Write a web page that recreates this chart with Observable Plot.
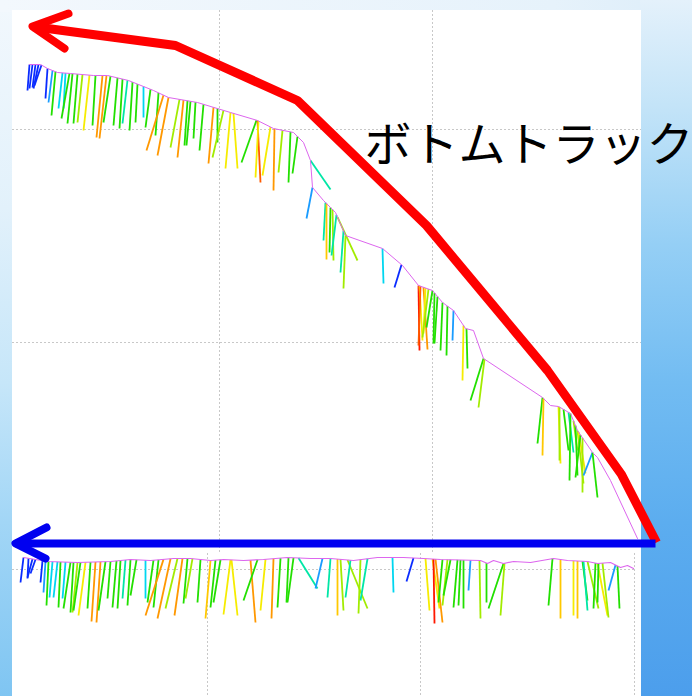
<!DOCTYPE html>
<html>
<head>
<meta charset="utf-8">
<script src="https://cdn.jsdelivr.net/npm/d3@7"></script>
<script src="https://cdn.jsdelivr.net/npm/@observablehq/plot@0.6"></script>
<style>
  html, body { margin: 0; padding: 0; }
  body {
    width: 692px; height: 696px; overflow: hidden;
    background:
      linear-gradient(to bottom, #e4f1fb 0%, #c4e4f8 15%, #95cff5 35%, #72bcf2 55%, #5cadef 75%, #4c9eec 100%) right top / 52px 100% no-repeat,
      linear-gradient(to right, #f3f8fd 0%, #e6f2fb 80%, #dcedf9 100%) left top / 100% 12px no-repeat,
      linear-gradient(to bottom, #f2f8fd 0%, #e2f1fb 30%, #c6e6f9 55%, #a2d6f6 75%, #7fc5f2 100%);
  }
  #chart { position: absolute; left: 0; top: 0; }
</style>
</head>
<body>
<div id="chart"></div>
<script>
const W = 692, H = 696;

// colour levels of the sticks (0 = blue ... 10 = red)
const levels = [0,1,2,3,4,5,6,7,8,9,10];
const palette = ["#0a2cff","#1a9cff","#00d6f0","#00e6a6","#22e000","#a2ec00","#f6ec00","#ffc800","#ff9800","#ff5a00","#ff1800"];

// white chart panel
const panel = [{x1: 12, x2: 641, y1: 10, y2: 696}];

// grid lines (upper and lower screen)
const upperGridX = [219, 432];
const upperGridY = [129, 342];
const upperGridSpan = {top: 10, bottom: 552, left: 12, right: 641};
const lowerGridX = [207, 420, 634];
const lowerGridY = [569];
const lowerGridSpan = {top: 553, bottom: 696, left: 12, right: 636};

// upper track (distance, depth)
const upperTrack = [[29,64],[40,64],[47,68],[57,72],[70,73],[93,75],[107,75],[128,80],[153,90],[168,97],[197,102],[230,112],[257,120],[273,128],[293,132],[303,142],[310,160],[312,187],[323,200],[335,212],[345,235],[382,248],[402,265],[418,285],[432,290],[442,302],[453,310],[465,328],[473,330],[483,358],[542,397],[550,405],[558,406],[570,413],[577,430],[592,452],[597,457],[610,480],[637,538]];

// upper sticks: [start distance, end distance, end depth, colour level]
const upperSticks = [
[29,27,90,0],[32,29,88,0],[35,32,87,0],[38,33,88,0],[41,34,85,0],
[47,45,98,0],[52,48,102,1],[55,51,115,4],[62,58,108,2],[65,63,108,2],[69,61,118,4],[72,67,123,4],[77,73,123,4],[82,77,122,5],[89,83,130,6],[95,92,125,4],[102,96,137,8],[106,99,138,8],[110,103,122,4],[117,113,125,4],[122,119,128,4],[127,122,123,3],[132,129,130,4],[137,135,122,4],[143,143,117,2],[150,145,127,4],[158,155,135,4],[163,146,150,8],[168,157,155,8],
[179,170,147,5],[183,177,157,8],[187,184,145,4],[190,186,145,4],[195,193,138,4],[203,199,150,4],[213,208,163,8],[217,217,142,4],[223,212,157,5],[230,225,168,6],[233,237,168,6],[256,241,162,4],[257,260,182,9],[258,255,177,6],[270,262,175,6],[274,273,190,8],[282,278,172,5],[290,288,182,4],[297,292,173,4],
[310,330,189,3],[312,306,218,1],[325,323,240,3],[326,326,259,7],[330,329,252,4],[332,333,260,5],[336,331,255,3],[337,357,260,5],[343,340,272,3],[345,343,288,5],[382,383,283,2],[401,394,287,0],
[418,419,350,10],[419,422,340,6],[420,418,345,9],[423,427,349,8],[425,423,333,6],[428,422,337,5],[432,426,327,4],
[434,433,343,4],[437,434,343,4],[442,440,350,4],[447,446,355,4],[453,452,340,1],[463,462,380,6],[466,467,368,4],[483,470,400,4],[484,478,407,5],
[542,537,443,4],[543,542,455,7],[558,560,463,6],[559,559,460,5],[563,568,450,4],[568,573,452,3],[570,569,480,4],[573,577,450,5],[575,577,475,4],[577,583,483,5],[578,585,473,6],[580,575,477,4],[582,582,492,5],[592,583,475,1],[592,597,497,4]
];

// lower track (distance, depth)
const lowerTrack = [[23,557],[47,561],[77,562],[110,561],[130,559],[150,560],[173,558],[190,558],[210,560],[223,559],[243,560],[263,559],[287,557],[310,558],[330,558],[353,560],[377,557],[403,557],[423,558],[440,559],[480,560],[487,563],[493,560],[503,563],[513,561],[530,562],[553,558],[567,560],[587,561],[597,563],[610,562],[620,567],[627,565],[633,568]];

// lower sticks: [start distance, end distance, end depth, colour level]
const lowerSticks = [
[23,20,582,0],[28,27,578,0],[32,27,577,0],[35,30,573,0],[42,40,582,0],[45,43,592,1],[48,46,605,4],[52,49,597,2],[57,53,597,2],[60,58,607,4],[65,62,598,2],[70,63,608,4],[73,70,612,4],[77,72,612,5],[80,73,610,4],[85,78,615,6],[90,87,608,4],[95,91,621,8],[100,96,622,8],[105,98,610,4],[110,107,598,4],[116,112,607,4],[120,117,608,4],[125,122,598,3],[130,127,605,4],[136,130,595,4],[145,145,598,2],[153,147,602,4],[158,153,607,4],[163,145,615,8],[170,157,618,8],[177,165,608,5],[182,174,615,8],[187,183,603,4],[192,185,598,5],[200,197,602,4],[210,205,618,7],[215,210,607,4],[220,213,602,4],[230,223,614,6],[231,237,615,6],[250,255,622,8],[257,243,600,4],[265,260,610,6],[273,271,618,8],[280,277,607,4],[288,286,602,4],[293,287,602,4],[298,317,588,3],[322,315,588,1],
[330,327,597,3],[337,337,615,7],[340,343,610,5],[347,367,608,5],[350,345,597,3],[360,358,613,5],[367,360,600,3],[392,393,592,2],[413,406,581,0],[425,429,610,6],[432,439,608,6],[433,434,623,10],[435,442,622,8],[442,438,602,4],[447,442,605,5],[450,443,595,4],[457,453,607,4],[460,458,605,4],[463,463,608,4],[470,468,590,1],[479,480,618,5],[486,486,602,4],[503,488,608,4],[504,500,615,5],[552,548,605,4],[560,560,618,7],[573,573,615,6],[577,577,618,7],[582,587,600,4],[583,587,610,3],[587,598,608,5],[595,593,608,4],[597,607,615,6],[598,597,602,4],[602,608,617,5],[615,608,590,1],[617,619,608,4]
];

// annotation arrows
const redShaft = [[656,542],[621,474],[547,370],[426,225],[297,100],[175,45],[32,26]];
const redHead = [[68,13],[32,26],[64,48]];
const blueShaft = [[655,543],[15,543]];
const blueHead = [[46,527],[15,543],[45,558]];

// label
const labels = [{x: 364, y: 145, text: "ボトムトラック"}];

// attach each stick to its track
function trackDepthAt(track, x) {
  for (let i = 0; i < track.length - 1; i++) {
    const [xa, ya] = track[i], [xb, yb] = track[i + 1];
    if (x >= xa && x <= xb) return xb === xa ? yb : ya + (yb - ya) * (x - xa) / (xb - xa);
  }
  return x < track[0][0] ? track[0][1] : track[track.length - 1][1];
}
const toLinks = (track, sticks) => sticks.map(([x0, x1, y1, c]) => ({x0, y0: trackDepthAt(track, x0), x1, y1, c}));
const upperLinks = toLinks(upperTrack, upperSticks);
const lowerLinks = toLinks(lowerTrack, lowerSticks);

const gridStroke = {stroke: "#c8c8c8", strokeWidth: 1, strokeDasharray: "2,2"};

const chart = Plot.plot({
  width: W, height: H, margin: 0,
  x: {domain: [0, W], range: [0, W], axis: null},
  y: {domain: [0, H], range: [0, H], axis: null},
  color: {type: "ordinal", domain: levels, range: palette},
  style: {background: "transparent", overflow: "visible"},
  marks: [
    Plot.rect(panel, {x1: "x1", x2: "x2", y1: "y1", y2: "y2", fill: "white"}),
    Plot.ruleX(upperGridX, {x: d => d, y1: upperGridSpan.top, y2: upperGridSpan.bottom, ...gridStroke}),
    Plot.ruleY(upperGridY, {y: d => d, x1: upperGridSpan.left, x2: upperGridSpan.right, ...gridStroke}),
    Plot.ruleX(lowerGridX, {x: d => d, y1: lowerGridSpan.top, y2: lowerGridSpan.bottom, ...gridStroke}),
    Plot.ruleY(lowerGridY, {y: d => d, x1: lowerGridSpan.left, x2: lowerGridSpan.right, ...gridStroke}),
    Plot.link(upperLinks, {x1: "x0", y1: "y0", x2: "x1", y2: "y1", stroke: "c", strokeWidth: 1.8}),
    Plot.link(lowerLinks, {x1: "x0", y1: "y0", x2: "x1", y2: "y1", stroke: "c", strokeWidth: 1.8}),
    Plot.line(upperTrack, {x: d => d[0], y: d => d[1], stroke: "#dd66ee", strokeWidth: 1}),
    Plot.line(lowerTrack, {x: d => d[0], y: d => d[1], stroke: "#dd66ee", strokeWidth: 1.2}),
    Plot.line(redShaft, {x: d => d[0], y: d => d[1], stroke: "#ff0000", strokeWidth: 9, strokeLinejoin: "round", strokeLinecap: "butt"}),
    Plot.line(redHead, {x: d => d[0], y: d => d[1], stroke: "#ff0000", strokeWidth: 8, strokeLinejoin: "round", strokeLinecap: "round"}),
    Plot.line(blueShaft, {x: d => d[0], y: d => d[1], stroke: "#0000f0", strokeWidth: 8, strokeLinecap: "butt"}),
    Plot.line(blueHead, {x: d => d[0], y: d => d[1], stroke: "#0000f0", strokeWidth: 8, strokeLinejoin: "round", strokeLinecap: "round"}),
    Plot.text(labels, {x: "x", y: "y", text: "text", textAnchor: "start", fontSize: 47, fill: "black", fontFamily: "'Noto Sans CJK JP', 'Noto Sans', sans-serif"})
  ]
});
document.getElementById("chart").append(chart);
</script>
</body>
</html>
